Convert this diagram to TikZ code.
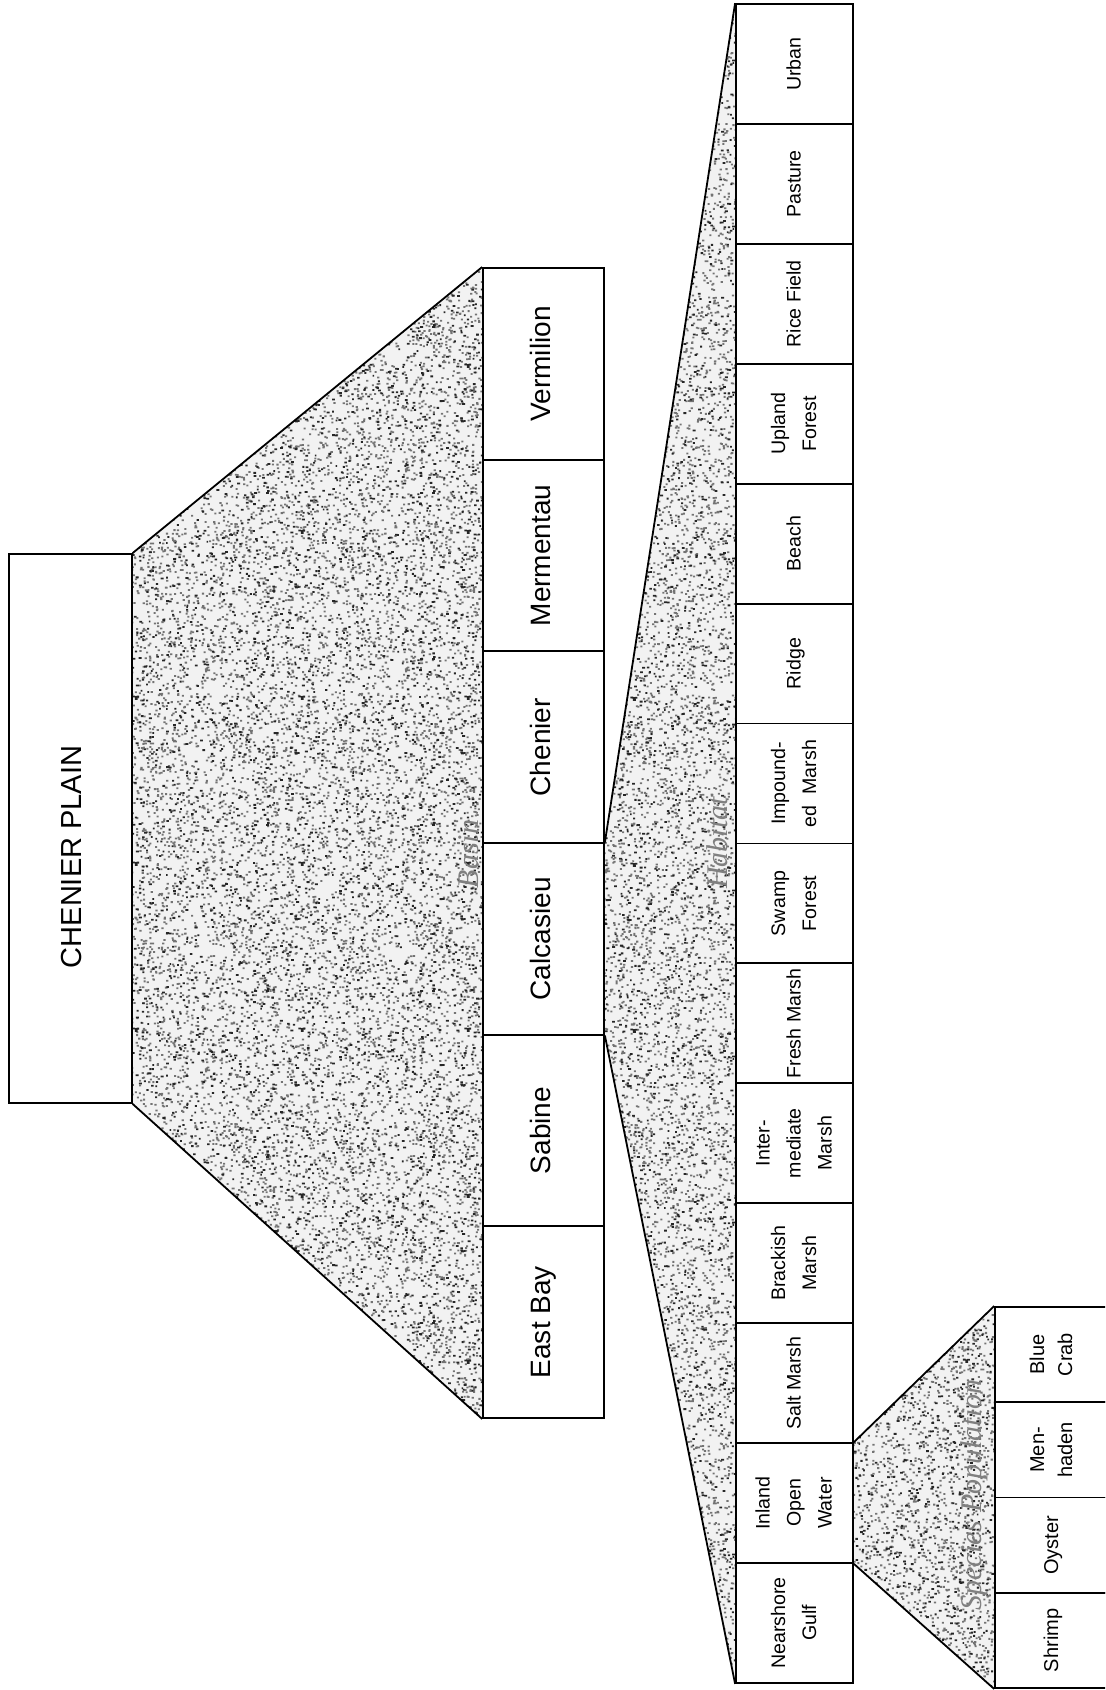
\documentclass[tikz,border=0pt]{standalone}
\usepackage{fontspec}
\setmainfont{Liberation Sans}
\newfontfamily\labelfont{Liberation Serif}
\usetikzlibrary{backgrounds,patterns}

% vertical (rotated) text, several lines centred
\newcommand{\vtext}[1]{\rotatebox{90}{\begin{tabular}{@{}c@{}}#1\end{tabular}}}

% stipple tiles: random specks, two sizes of tile so the repeat is not seen
\pgfmathsetseed{4711}
\pgfdeclarepatternformonly{specklight}{\pgfpoint{0pt}{0pt}}{\pgfpoint{100pt}{100pt}}{\pgfpoint{100pt}{100pt}}{%
  \foreach \k in {1,...,1250}{%
    \pgfmathsetmacro\sx{99*rnd}\pgfmathsetmacro\sy{99*rnd}%
    \pgfpathrectangle{\pgfpoint{\sx pt}{\sy pt}}{\pgfpoint{1.05pt}{0.9pt}}%
  }%
  \pgfusepath{fill}%
}
\pgfdeclarepatternformonly{speckdark}{\pgfpoint{0pt}{0pt}}{\pgfpoint{83pt}{83pt}}{\pgfpoint{83pt}{83pt}}{%
  \foreach \k in {1,...,330}{%
    \pgfmathsetmacro\sx{82*rnd}\pgfmathsetmacro\sy{82*rnd}%
    \pgfmathsetmacro\sw{0.8+0.7*rnd}%
    \pgfpathrectangle{\pgfpoint{\sx pt}{\sy pt}}{\pgfpoint{\sw pt}{0.9pt}}%
  }%
  \pgfusepath{fill}%
}

\begin{document}
\begin{tikzpicture}[x=0.5pt,y=-0.5pt,
  outline/.style={draw, line width=0.9pt, fill=white, inner sep=0pt},
  plainbox/.style={outline, minimum width=61.5pt, minimum height=274.5pt},
  basinbox/.style={outline, minimum width=60.5pt, minimum height=95.83pt,
                   font=\fontsize{14}{17}\selectfont},
  habbox/.style={outline, minimum width=58.5pt, minimum height=59.96pt,
                 font=\fontsize{9.8}{15.5}\selectfont},
  spbox/.style={outline, minimum width=57.5pt, minimum height=47.6pt,
                font=\fontsize{10}{14}\selectfont},
  tier/.style={text=black!50, font=\labelfont\itshape\fontsize{15}{15}\selectfont,
               rotate=90, inner sep=0pt},
  edge/.style={line width=0.9pt},
  stipple/.style={fill=black!5, postaction={pattern=specklight, pattern color=black!55},
                  postaction={pattern=speckdark, pattern color=black!85}}
]
\clip (0,0) rectangle (1105,1690);

% top level
\node[plainbox] (plain) at (70.2,828.5) {};
\node[rotate=90, font=\fontsize{14.5}{17}\selectfont, inner sep=0pt] (plaintext) at (72,857) {CHENIER PLAIN};

% basins
\node[basinbox] (vermilion) at (543.5,363.8) {\vtext{Vermilion}};
\node[basinbox] (mermentau) at (543.5,555.5) {\vtext{Mermentau}};
\node[basinbox] (chenier)   at (543.5,747.2) {\vtext{Chenier}};
\node[basinbox] (calcasieu) at (543.5,938.8) {\vtext{Calcasieu}};
\node[basinbox] (sabine)    at (543.5,1130.5) {\vtext{Sabine}};
\node[basinbox] (eastbay)   at (543.5,1322.2) {\vtext{East Bay}};

% habitats
\node[habbox] (urban)     at (794.5,64.0)   {\vtext{Urban}};
\node[habbox] (pasture)   at (794.5,183.9)  {\vtext{Pasture}};
\node[habbox] (rice)      at (794.5,303.8)  {\vtext{Rice Field}};
\node[habbox] (upland)    at (794.5,423.8)  {\vtext{Upland\\Forest}};
\node[habbox] (beach)     at (794.5,543.7)  {\vtext{Beach}};
\node[habbox] (ridge)     at (794.5,663.6)  {\vtext{Ridge}};
\node[habbox] (impound)   at (794.5,783.5)  {\vtext{Impound-\\ed\ \ Marsh}};
\node[habbox] (swamp)     at (794.5,903.4)  {\vtext{Swamp\\Forest}};
\node[habbox] (fresh)     at (794.5,1023.4) {\vtext{Fresh Marsh}};
\node[habbox] (intermed)  at (794.5,1143.3) {\vtext{Inter-\\mediate\\Marsh}};
\node[habbox] (brackish)  at (794.5,1263.2) {\vtext{Brackish\\Marsh}};
\node[habbox] (salt)      at (794.5,1383.1) {\vtext{Salt Marsh}};
\node[habbox] (inland)    at (794.5,1503.0) {\vtext{Inland\\Open\\Water}};
\node[habbox] (nearshore) at (794.5,1623.0) {\vtext{Nearshore\\Gulf}};

% species
\node[spbox] (bluecrab) at (1052.5,1354.6) {\vtext{Blue\\Crab}};
\node[spbox] (menhaden) at (1052.5,1449.9) {\vtext{Men-\\haden}};
\node[spbox] (oyster)   at (1052.5,1545.1) {\vtext{Oyster}};
\node[spbox] (shrimp)   at (1052.5,1640.4) {\vtext{Shrimp}};

% stippled fans between the levels
\begin{scope}[on background layer]
  \fill[stipple] (plain.north east) -- (vermilion.north west) -- (eastbay.south west) -- (plain.south east) -- cycle;
  \fill[stipple] (calcasieu.north east) -- (urban.north west) -- (nearshore.south west) -- (calcasieu.south east) -- cycle;
  \fill[stipple] (inland.north east) -- (bluecrab.north west) -- (shrimp.south west) -- (inland.south east) -- cycle;
\end{scope}

% fan edges
\draw[edge] (plain.north east) -- (vermilion.north west);
\draw[edge] (plain.south east) -- (eastbay.south west);
\draw[edge] (calcasieu.north east) -- (urban.north west);
\draw[edge] (calcasieu.south east) -- (nearshore.south west);
\draw[edge] (inland.north east) -- (bluecrab.north west);
\draw[edge] (inland.south east) -- (shrimp.south west);

% level names
\node[tier] (basinname)   at (469,854)  {Basin};
\node[tier] (habitatname) at (717,843)  {Habitat};
\node[tier] (speciesname) at (974,1495) {Species Population};
\end{tikzpicture}
\end{document}
